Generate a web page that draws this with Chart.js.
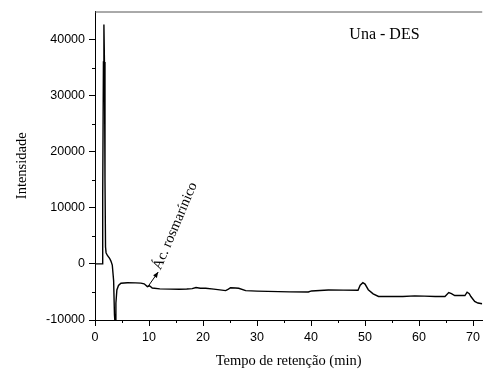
<!DOCTYPE html>
<html>
<head>
<meta charset="utf-8">
<script src="https://cdn.jsdelivr.net/npm/chart.js@4"></script>
<style>
  html, body { margin: 0; padding: 0; background: #fff; }
  canvas { display: block; }
</style>
</head>
<body>
<canvas id="chart" width="484" height="370"></canvas>
<script>
// retention time (min) and detector intensity
const retentionTime = [
  0, 1.3, 1.38, 1.47, 1.56, 1.65, 1.75, 1.85, 1.95, 2.05, 2.3, 2.7, 2.95, 3.2, 3.45, 3.6, 3.7,
  3.8, 3.87, 4.05, 4.35, 4.8, 6, 7.5, 8.5, 9.1, 9.7, 10.1, 10.6, 12, 14, 15.6, 17, 18.0, 18.7,
  19.5, 20.5, 22, 24.2, 24.7, 25.1, 26.0, 26.6, 27.9, 30, 32, 34, 36, 39.5, 40.1, 43.2, 46,
  48.7, 49.1, 49.6, 50.0, 50.6, 51.5, 52.5, 55, 57, 59.2, 61, 63, 64.8, 65.5, 66.0, 66.6,
  68.5, 68.9, 69.3, 69.6, 70.3, 70.9, 71.7
];
const intensity = [
  0, 0, 0, 12000, 36000, 42700, 36000, 15000, 3000, 2000, 1500, 1000, 500, -200, -3000, -9000, -10500,
  -10500, -7000, -4640, -3850, -3440, -3350, -3380, -3420, -3550, -4050, -3900, -4300, -4450, -4500, -4520, -4480, -4400, -4200,
  -4350, -4350, -4500, -4760, -4500, -4250, -4300, -4350, -4760, -4850, -4900, -4940, -4980, -5000, -4820, -4640, -4680,
  -4700, -3800, -3350, -3600, -4600, -5340, -5800, -5820, -5800, -5700, -5750, -5800, -5810, -5110, -5300, -5640,
  -5640, -5050, -5300, -5810, -6690, -6980, -7100
];
const xTicksMajor = [0, 10, 20, 30, 40, 50, 60, 70];
const xTicksMinor = [5, 15, 25, 35, 45, 55, 65];
const yTicksMajor = [-10000, 0, 10000, 20000, 30000, 40000];
const yTicksMinor = [-5000, 5000, 15000, 25000, 35000];

const sampleLabel = "Una - DES";
const peakLabel = "Ác. rosmarínico";
const peakArrow = { from: [9.8, -4050], to: [11.7, -1450] };
const peakText = [11.5, -900];

const serif = "Liberation Serif, Times New Roman, serif";
const sans = "Liberation Sans, Arial, sans-serif";

const extras = {
  id: "extras",
  afterDraw(chart) {
    const { ctx, chartArea, scales: { x, y } } = chart;
    ctx.save();

    // top frame line
    ctx.strokeStyle = "#555";
    ctx.lineWidth = 1;
    ctx.beginPath();
    ctx.moveTo(chartArea.left, chartArea.top + 0.5);
    ctx.lineTo(chartArea.right, chartArea.top + 0.5);
    ctx.stroke();

    // minor ticks
    ctx.strokeStyle = "#000";
    ctx.beginPath();
    for (const v of xTicksMinor) {
      const px = Math.round(x.getPixelForValue(v)) + 0.5;
      ctx.moveTo(px, chartArea.bottom);
      ctx.lineTo(px, chartArea.bottom + 3);
    }
    for (const v of yTicksMinor) {
      const py = Math.round(y.getPixelForValue(v)) + 0.5;
      ctx.moveTo(chartArea.left - 3, py);
      ctx.lineTo(chartArea.left, py);
    }
    ctx.stroke();

    // sample label
    ctx.fillStyle = "#000";
    ctx.font = "16px " + serif;
    ctx.textAlign = "center";
    ctx.textBaseline = "middle";
    ctx.fillText(sampleLabel, x.getPixelForValue(53.6), y.getPixelForValue(40800));

    // arrow to the rosmarinic acid peak
    const x0 = x.getPixelForValue(peakArrow.from[0]), y0 = y.getPixelForValue(peakArrow.from[1]);
    const x1 = x.getPixelForValue(peakArrow.to[0]), y1 = y.getPixelForValue(peakArrow.to[1]);
    const ang = Math.atan2(y1 - y0, x1 - x0);
    ctx.lineWidth = 1;
    ctx.beginPath();
    ctx.moveTo(x0, y0);
    ctx.lineTo(x1, y1);
    ctx.stroke();
    ctx.beginPath();
    ctx.moveTo(x1, y1);
    ctx.lineTo(x1 - 6 * Math.cos(ang - 0.4), y1 - 6 * Math.sin(ang - 0.4));
    ctx.lineTo(x1 - 6 * Math.cos(ang + 0.4), y1 - 6 * Math.sin(ang + 0.4));
    ctx.closePath();
    ctx.fill();

    // rotated peak name
    ctx.translate(x.getPixelForValue(peakText[0]), y.getPixelForValue(peakText[1]));
    ctx.rotate(-67 * Math.PI / 180);
    ctx.font = "14.5px " + serif;
    ctx.textAlign = "left";
    ctx.textBaseline = "middle";
    ctx.fillText(peakLabel, 0, 0);

    ctx.restore();
  }
};

new Chart(document.getElementById("chart"), {
  type: "line",
  data: {
    datasets: [{
      data: retentionTime.map((t, i) => ({ x: t, y: intensity[i] })),
      borderColor: "#000",
      borderWidth: 1.4,
      pointRadius: 0,
      tension: 0,
      fill: false
    }]
  },
  plugins: [extras],
  options: {
    responsive: false,
    animation: false,
    devicePixelRatio: 1,
    layout: { padding: { top: 7, right: 0, bottom: 0, left: 0 } },
    plugins: { legend: { display: false }, tooltip: { enabled: false } },
    scales: {
      x: {
        type: "linear",
        min: 0,
        max: 71.7,
        afterFit: (s) => { s.height = 50; },
        afterBuildTicks: (s) => { s.ticks = xTicksMajor.map((v) => ({ value: v })); },
        border: { display: true, color: "#000", width: 1 },
        grid: { drawOnChartArea: false, drawTicks: true, tickLength: 6, color: "#000" },
        ticks: {
          includeBounds: false, padding: 4, color: "#000",
          font: { family: sans, size: 12.5 },
          callback: (v) => String(v)
        },
        title: {
          display: true,
          text: "Tempo de retenção (min)",
          color: "#000",
          padding: { top: 0, bottom: 0 },
          font: { family: serif, size: 14.5 }
        }
      },
      y: {
        type: "linear",
        min: -10000,
        max: 45000,
        afterFit: (s) => { s.width = 95; },
        afterBuildTicks: (s) => { s.ticks = yTicksMajor.map((v) => ({ value: v })); },
        border: { display: true, color: "#000", width: 1 },
        grid: { drawOnChartArea: false, drawTicks: true, tickLength: 6, color: "#000" },
        ticks: {
          includeBounds: false, padding: 4, color: "#000",
          font: { family: sans, size: 12.5 },
          callback: (v) => String(v)
        },
        title: {
          display: true,
          text: "Intensidade",
          color: "#000",
          padding: { top: 13, bottom: 0 },
          font: { family: serif, size: 14.5 }
        }
      }
    }
  }
});
</script>
</body>
</html>
